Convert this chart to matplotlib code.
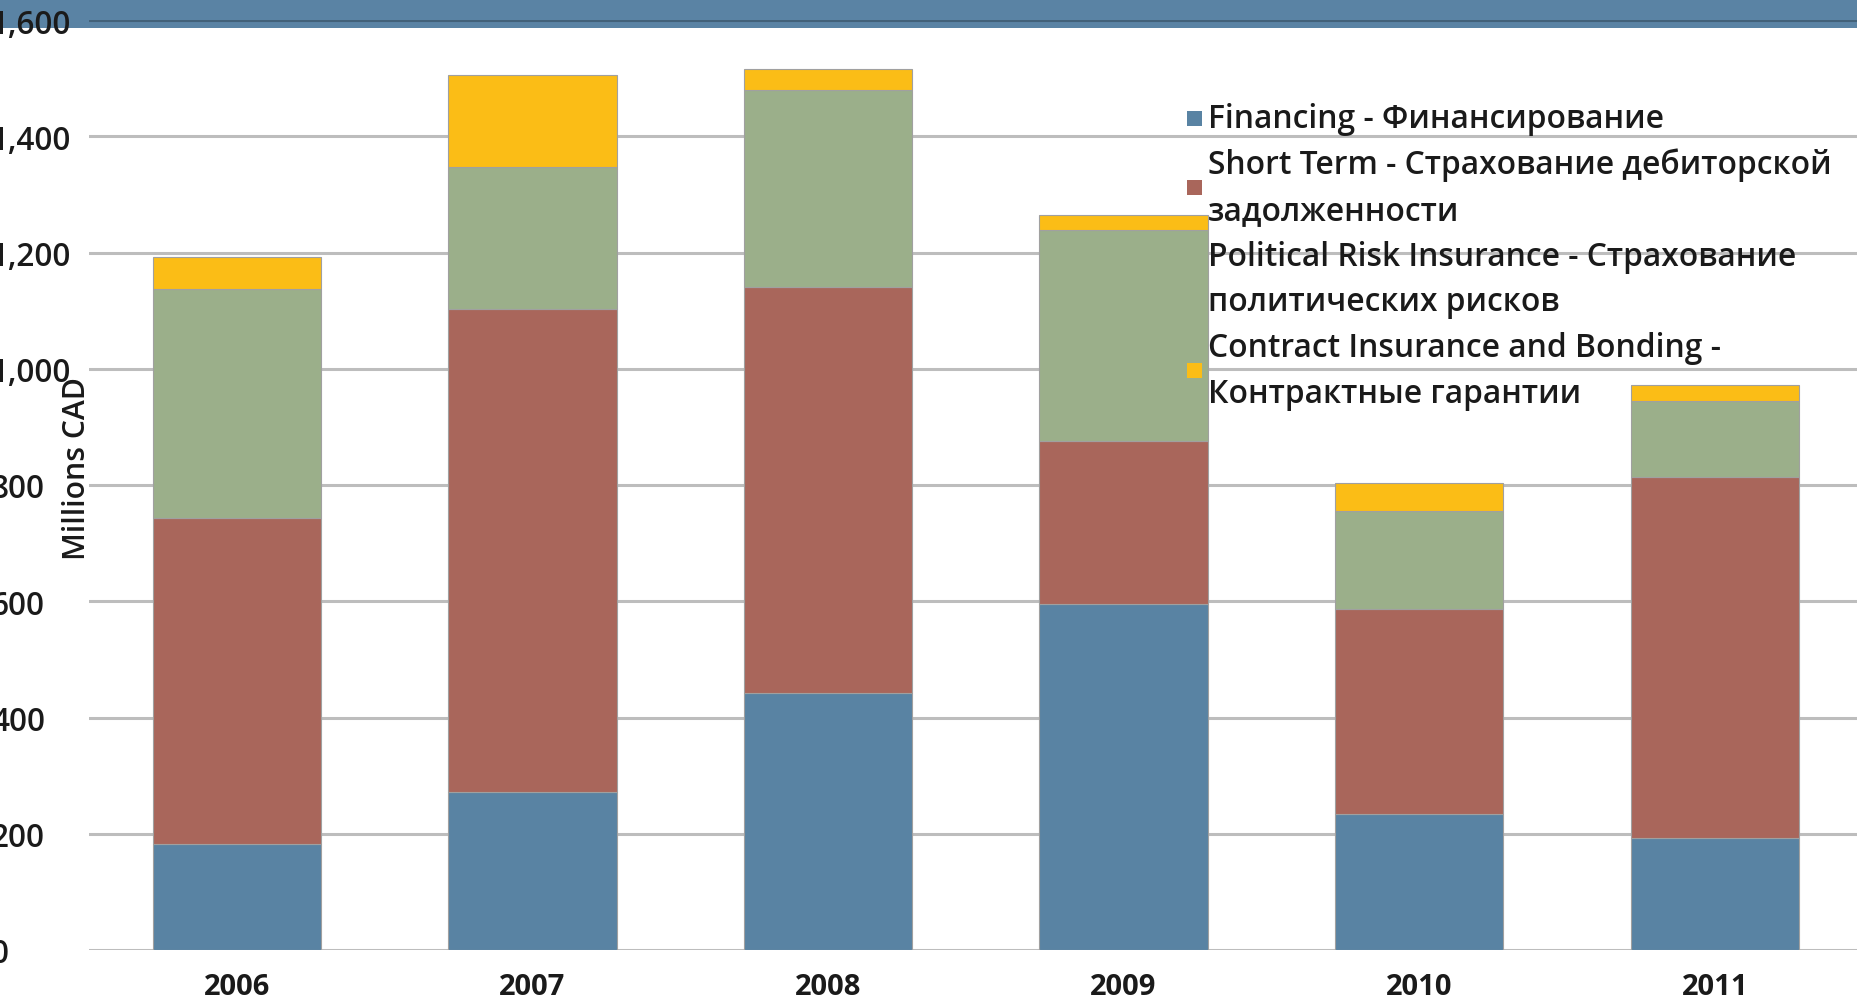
import matplotlib
matplotlib.use("Agg")
import matplotlib.pyplot as plt
from matplotlib.patches import Rectangle
import matplotlib.transforms as mtrans
import numpy as np

years = ["2006", "2007", "2008", "2009", "2010", "2011"]
financing = [183, 271, 442, 595, 234, 192]
short_term = [561, 832, 699, 281, 353, 621]
political = [393, 244, 339, 363, 169, 131]
contract = [55, 159, 36, 25, 47, 28]
series_labels = [
    "Financing - Финансирование",
    "Short Term - Страхование дебиторской\nзадолженности",
    "Political Risk Insurance - Страхование\nполитических рисков",
    "Contract Insurance and Bonding -\nКонтрактные гарантии",
]
y_ticks = [0, 200, 400, 600, 800, 1000, 1200, 1400, 1600]
y_label = "Millions CAD"

colors = ["#5983A3", "#A9665B", "#9BAF8A", "#FBBD16"]
FONT = ["Open Sans", "DejaVu Sans"]
plt.rcParams["font.family"] = FONT

W, H = 1857, 1004
fig = plt.figure(figsize=(W / 100, H / 100), dpi=100)
fig.patch.set_facecolor("white")

# top header band
fig.add_artist(Rectangle((0, 1 - 29 / H), 1, 29 / H, transform=fig.transFigure,
                         facecolor="#5A83A4", edgecolor="none", zorder=0))

ax_left_px = 89
ax = fig.add_axes([ax_left_px / W, 1 - 951 / H, 1 - ax_left_px / W + 0.003, (951 - 21) / H])
ax.set_facecolor("none")
ax.set_zorder(1)

x = np.arange(len(years))
series = [financing, short_term, political, contract]
bottom = np.zeros(len(years))
for vals, col in zip(series, colors):
    ax.bar(x, vals, width=0.57, bottom=bottom, color=col, edgecolor="#A0A0A0",
           linewidth=0.8, zorder=3)
    bottom += np.array(vals)

ax.set_xlim(-0.5, 5.5)
ax.set_ylim(0, 1600)
ax.set_yticks(y_ticks)
ax.set_yticklabels([f"{v:,}" for v in y_ticks], fontsize=22.7, fontweight="semibold",
                   color="#1a1a1a", ha="left")
ax.set_xticks(x)
ax.set_xticklabels([])
ax.tick_params(axis="both", length=0)
# labels start slightly off the left edge of the canvas (cropped like the reference)
ax.tick_params(axis="y", pad=(ax_left_px + 9) * 72 / 100)
for s in ax.spines.values():
    s.set_visible(False)
ax.yaxis.grid(True, color="black", alpha=0.26, linewidth=2.2, zorder=0)
ax.set_axisbelow(True)

# year labels
trans = mtrans.blended_transform_factory(ax.transData, fig.transFigure)
for xi, yr in zip(x, years):
    ax.text(xi, 1 - 988 / H, yr, transform=trans, ha="center", va="center",
            fontsize=21, fontweight="bold", color="#1a1a1a")

# y label
fig.text(77 / W, 1 - 469 / H, y_label, rotation=90, ha="center", va="center",
         fontsize=21.7, fontweight="semibold", color="#1a1a1a", zorder=5)

# legend (manual)
line0 = 119.6
step = 45.8
text_x = 1208 / W
marker_x = 1194
msize = 15
line_idx = 0
for lab, col in zip(series_labels, colors):
    lines = lab.split("\n")
    for ln in lines:
        fig.text(text_x, 1 - (line0 + step * line_idx) / H, ln, ha="left", va="center",
                 fontsize=22.9, fontweight="semibold", color="#1a1a1a", zorder=6)
        line_idx += 1
    mid = line0 + step * (line_idx - len(lines) + (len(lines) - 1) / 2)
    fig.add_artist(Rectangle(((marker_x - msize / 2) / W, 1 - (mid + msize / 2) / H),
                             msize / W, msize / H, transform=fig.transFigure,
                             facecolor=col, edgecolor="none", zorder=6))

fig.savefig("out.png", dpi=100)
